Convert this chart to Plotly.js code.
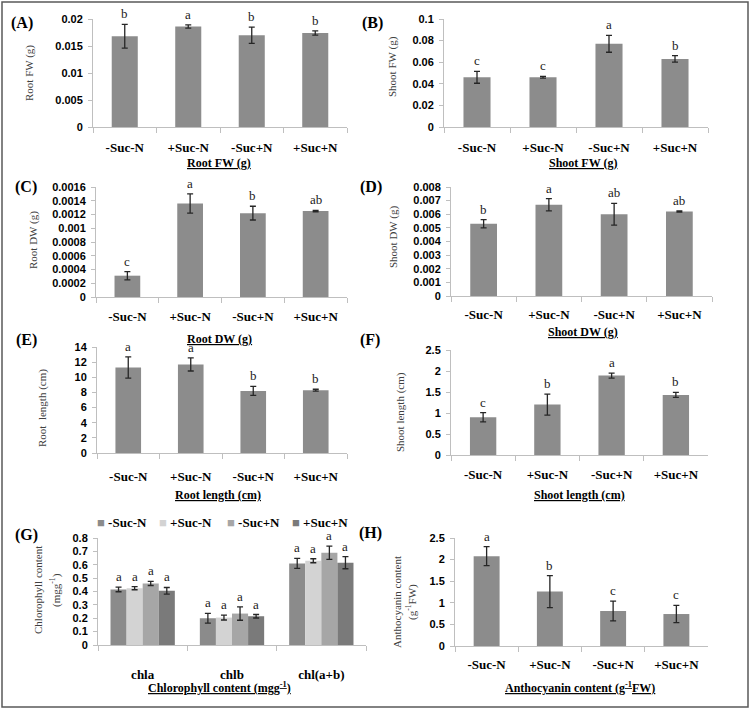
<!DOCTYPE html>
<html>
<head>
<meta charset="utf-8">
<script src="https://cdn.plot.ly/plotly-3.0.1.min.js"></script>
<style>html,body{margin:0;padding:0;background:#fff;}#chart{width:750px;height:710px;}</style>
</head>
<body>
<div id="chart"></div>
<script>
// ---------- DATA ----------
const categories = ['-Suc-N', '+Suc-N', '-Suc+N', '+Suc+N'];

const rootFW = [0.0168, 0.0186, 0.0170, 0.0174];
const rootFWErr = [0.0022, 0.0003, 0.0015, 0.0004];
const rootFWSig = ['b', 'a', 'b', 'b'];

const shootFW = [0.046, 0.046, 0.077, 0.063];
const shootFWErr = [0.0055, 0.0008, 0.0078, 0.003];
const shootFWSig = ['c', 'c', 'a', 'b'];

const rootDW = [0.00031, 0.00136, 0.00122, 0.00125];
const rootDWErr = [0.00006, 0.00014, 0.0001, 0.00001];
const rootDWSig = ['c', 'a', 'b', 'ab'];

const shootDW = [0.0053, 0.0067, 0.0060, 0.0062];
const shootDWErr = [0.0003, 0.00045, 0.0008, 0.00005];
const shootDWSig = ['b', 'a', 'ab', 'ab'];

const rootLen = [11.3, 11.7, 8.2, 8.3];
const rootLenErr = [1.4, 0.87, 0.6, 0.12];
const rootLenSig = ['a', 'a', 'b', 'b'];

const shootLen = [0.9, 1.2, 1.89, 1.43];
const shootLenErr = [0.11, 0.25, 0.06, 0.06];
const shootLenSig = ['c', 'b', 'a', 'b'];

const chlCategories = ['chla', 'chlb', 'chl(a+b)'];
const chlMinusSucMinusN = [0.415, 0.200, 0.610];
const chlMinusSucMinusNErr = [0.017, 0.036, 0.037];
const chlPlusSucMinusN = [0.425, 0.205, 0.630];
const chlPlusSucMinusNErr = [0.012, 0.018, 0.015];
const chlMinusSucPlusN = [0.460, 0.235, 0.690];
const chlMinusSucPlusNErr = [0.015, 0.050, 0.050];
const chlPlusSucPlusN = [0.405, 0.215, 0.615];
const chlPlusSucPlusNErr = [0.025, 0.013, 0.045];
const chlSig = ['a', 'a', 'a'];

const anthocyanin = [2.08, 1.26, 0.81, 0.74];
const anthocyaninErr = [0.22, 0.37, 0.23, 0.20];
const anthocyaninSig = ['a', 'b', 'c', 'c'];

// ---------- STYLE ----------
const W = 750, H = 710;
const barColor = '#8c8c8c';
const chlColors = ['#8b8b8b', '#d3d3d3', '#a6a6a6', '#7a7a7a'];
const serif = 'Liberation Serif, Times New Roman, serif';
const sans = 'Liberation Sans, Arial, sans-serif';
const axisGray = '#bfbfbf';
const errColor = '#262626';
const letterColor = '#1a1a1a';

function px2x(p) { return p / W; }
function px2y(p) { return 1 - p / H; }

// panel geometry (pixels): [x0, x1, yTop, yBottom]
const panels = [
  {id: '',  box: [93, 347, 19, 127],  ymax: 0.02,   dtick: 0.005,  standoff: 8},
  {id: '2', box: [444, 708, 19, 127], ymax: 0.1,    dtick: 0.02,   standoff: 8},
  {id: '3', box: [96, 347, 187, 297], ymax: 0.0016, dtick: 0.0002, standoff: 7},
  {id: '4', box: [451, 712, 187, 296],ymax: 0.008,  dtick: 0.001,  standoff: 6},
  {id: '5', box: [97, 347, 347, 453], ymax: 14,     dtick: 2,      standoff: 11},
  {id: '6', box: [451, 708, 350, 455],ymax: 2.5,    dtick: 0.5,    standoff: 7},
  {id: '7', box: [98, 366, 538, 645], ymax: 0.8,    dtick: 0.1,    standoff: 17},
  {id: '8', box: [455, 708, 538, 646],ymax: 2.5,    dtick: 0.5,    standoff: 6}
];

const singles = [
  [rootFW, rootFWErr, rootFWSig],
  [shootFW, shootFWErr, shootFWSig],
  [rootDW, rootDWErr, rootDWSig],
  [shootDW, shootDWErr, shootDWSig],
  [rootLen, rootLenErr, rootLenSig],
  [shootLen, shootLenErr, shootLenSig],
  null,
  [anthocyanin, anthocyaninErr, anthocyaninSig]
];

const traces = [];
const annotations = [];
const layout = {
  width: W, height: H,
  margin: {l: 0, r: 0, t: 0, b: 0},
  paper_bgcolor: '#ffffff', plot_bgcolor: '#ffffff',
  showlegend: false,
  barmode: 'group',
  bargap: 0.59,
  font: {family: serif, color: '#000'},
  shapes: [{
    type: 'rect', xref: 'paper', yref: 'paper',
    x0: px2x(2), x1: px2x(748), y0: px2y(707), y1: px2y(2),
    line: {color: '#595959', width: 1.5}
  }],
  annotations: annotations
};

panels.forEach((p, k) => {
  const xa = 'xaxis' + p.id, ya = 'yaxis' + p.id;
  const xr = 'x' + p.id, yr = 'y' + p.id;
  layout[xa] = {
    domain: [px2x(p.box[0]), px2x(p.box[1])],
    anchor: yr, type: 'category',
    showline: true, linecolor: axisGray, linewidth: 1,
    ticks: 'outside', tickson: 'boundaries', ticklen: 5, tickcolor: axisGray,
    tickfont: {family: serif, size: 13, weight: 'bold', color: '#000'},
    ticklabelstandoff: p.standoff,
    showgrid: false, zeroline: false, fixedrange: true
  };
  layout[ya] = {
    domain: [px2y(p.box[3]), px2y(p.box[2])],
    anchor: xr, range: [0, p.ymax], dtick: p.dtick, tick0: 0,
    showline: true, linecolor: axisGray, linewidth: 1,
    ticks: 'outside', ticklen: 4, tickcolor: axisGray,
    tickfont: {family: sans, size: 11, weight: 'bold', color: '#000'},
    ticklabelstandoff: 3, exponentformat: 'none',
    showgrid: false, zeroline: false, fixedrange: true
  };
  const s = singles[k];
  if (s) {
    traces.push({
      type: 'bar', x: categories, y: s[0], xaxis: xr, yaxis: yr,
      marker: {color: barColor}, showlegend: false, hoverinfo: 'skip',
      error_y: {type: 'data', array: s[1], visible: true, color: errColor, thickness: 1.3, width: 3}
    });
    categories.forEach((c, i) => {
      annotations.push({
        xref: xr, yref: yr, x: c, y: s[0][i] + s[1][i], text: s[2][i],
        showarrow: false, yanchor: 'bottom', yshift: 1,
        font: {family: serif, size: 13, color: letterColor}
      });
    });
  }
});

// grouped chlorophyll panel
const chlSeries = [
  [chlMinusSucMinusN, chlMinusSucMinusNErr],
  [chlPlusSucMinusN, chlPlusSucMinusNErr],
  [chlMinusSucPlusN, chlMinusSucPlusNErr],
  [chlPlusSucPlusN, chlPlusSucPlusNErr]
];
const chlGap = 0.28;
chlSeries.forEach((s, j) => {
  traces.push({
    type: 'bar', name: categories[j], x: chlCategories, y: s[0],
    xaxis: 'x7', yaxis: 'y7', marker: {color: chlColors[j]},
    width: (1 - chlGap) / 4,
    offset: -(1 - chlGap) / 2 + j * (1 - chlGap) / 4,
    hoverinfo: 'skip',
    error_y: {type: 'data', array: s[1], visible: true, color: errColor, thickness: 1.3, width: 3}
  });
  chlCategories.forEach((c, i) => {
    annotations.push({
      xref: 'x7', yref: 'y7', x: i - (1 - chlGap) / 2 + (j + 0.5) * (1 - chlGap) / 4,
      y: s[0][i] + s[1][i], text: chlSig[i],
      showarrow: false, yanchor: 'bottom', yshift: 1,
      font: {family: serif, size: 13, color: letterColor}
    });
  });
});

// legend for chlorophyll panel (coloured square + series name)
const legendX = [95, 157, 225, 290];
categories.forEach((name, j) => annotations.push({
  xref: 'paper', yref: 'paper', x: px2x(legendX[j]), y: px2y(522),
  text: '<span style="color:' + chlColors[j] + '">■</span> <b>' + name + '</b>',
  showarrow: false, xanchor: 'left', yanchor: 'middle',
  font: {family: serif, size: 13, color: '#000'}
}));

// panel letters
const panelLabels = [
  ['(A)', 22, 23], ['(B)', 372, 23], ['(C)', 26, 187], ['(D)', 371, 187],
  ['(E)', 26, 340], ['(F)', 370, 340], ['(G)', 26, 535], ['(H)', 370, 533]
];
panelLabels.forEach(l => annotations.push({
  xref: 'paper', yref: 'paper', x: px2x(l[1]), y: px2y(l[2]), text: '<b>' + l[0] + '</b>',
  showarrow: false, xanchor: 'center', yanchor: 'middle',
  font: {family: serif, size: 16, color: '#000'}
}));

// y axis titles (rotated)
const yTitles = [
  ['Root FW (g)', 30, 73], ['Shoot FW (g)', 393, 67],
  ['Root DW (g)', 33, 240], ['Shoot DW (g)', 393, 237],
  ['Root  length (cm)', 42, 408], ['Shoot length (cm)', 400, 412],
  ['Chlorophyll content', 38, 590], ['(mgg<sup>-1</sup>)', 55, 590],
  ['Anthocyanin content', 397, 602], ['(g<sup>-1</sup>FW)', 411, 602]
];
yTitles.forEach(t => annotations.push({
  xref: 'paper', yref: 'paper', x: px2x(t[1]), y: px2y(t[2]), text: t[0],
  showarrow: false, textangle: -90, xanchor: 'center', yanchor: 'middle',
  font: {family: serif, size: 11, color: '#404040'}
}));

// x axis titles (underlined, bold)
const xTitles = [
  ['Root FW (g)', 219, 163], ['Shoot FW (g)', 583, 163],
  ['Root DW (g)', 219, 339], ['Shoot DW (g)', 583, 332],
  ['Root length (cm)', 218, 495], ['Shoot length (cm)', 579, 495],
  ['Chlorophyll content (mgg<sup>-1</sup>)', 219, 687], ['Anthocyanin content (g<sup>-1</sup>FW)', 580, 687]
];
xTitles.forEach(t => annotations.push({
  xref: 'paper', yref: 'paper', x: px2x(t[1]), y: px2y(t[2]), text: '<u><b>' + t[0] + '</b></u>',
  showarrow: false, xanchor: 'center', yanchor: 'middle',
  font: {family: serif, size: 12, color: '#000'}
}));

Plotly.newPlot('chart', traces, layout, {staticPlot: true, displayModeBar: false});
</script>
</body>
</html>
